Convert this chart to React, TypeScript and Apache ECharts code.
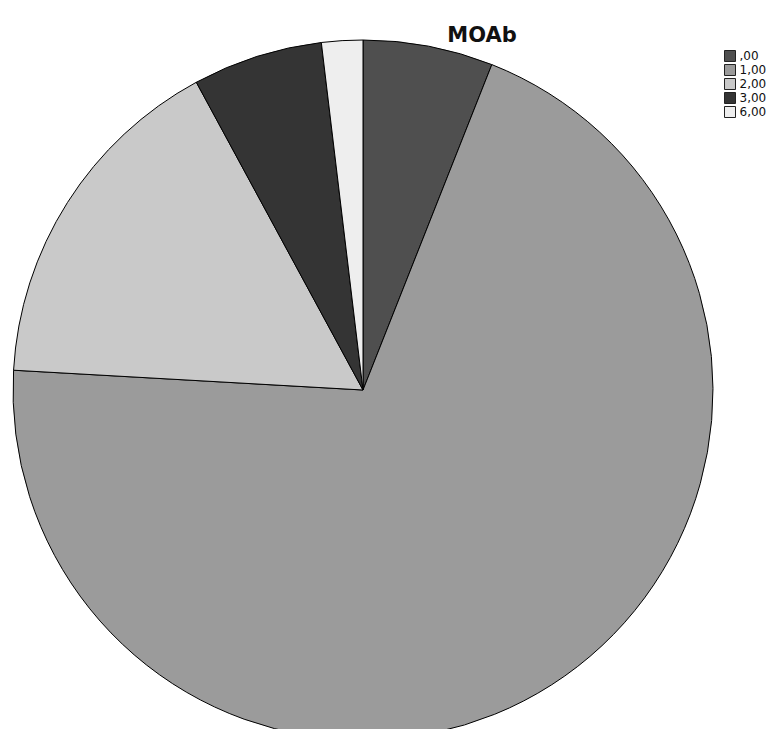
import React, { useEffect, useRef } from "react";
import * as echarts from "echarts";

const categories = [",00", "1,00", "2,00", "3,00", "6,00"];
const values = [6.0, 69.9, 16.2, 6.0, 1.9];
const colors = ["#4f4f4f", "#9b9b9b", "#c9c9c9", "#343434", "#eeeeee"];
const title = "MOAb";

export default function App() {
  const ref = useRef<HTMLDivElement>(null);
  useEffect(() => {
    if (!ref.current) return;
    const chart = echarts.init(ref.current, undefined, { renderer: "svg" });
    chart.setOption({
      animation: false,
      backgroundColor: "#ffffff",
      title: {
        text: title,
        left: 477,
        top: 19,
        textAlign: "center",
        textStyle: { fontFamily: "DejaVu Sans", fontWeight: "bold", fontSize: 21, color: "#111" },
      },
      legend: {
        orient: "vertical",
        left: 719,
        top: 44,
        itemWidth: 11,
        itemHeight: 11,
        itemGap: 0,
        icon: "rect",
        selectedMode: false,
        itemStyle: { borderColor: "#222", borderWidth: 1 },
        textStyle: {
          fontFamily: "DejaVu Sans",
          fontSize: 12,
          lineHeight: 14,
          color: "#111",
          padding: [0, 0, 0, -1],
        },
        data: categories,
      },
      series: [
        {
          type: "pie",
          center: [363, 390],
          radius: 350,
          startAngle: 90,
          clockwise: true,
          label: { show: false },
          labelLine: { show: false },
          emphasis: { disabled: true },
          itemStyle: { borderColor: "#000", borderWidth: 1 },
          data: categories.map((c, i) => ({ name: c, value: values[i], itemStyle: { color: colors[i] } })),
        },
      ],
    });
    return () => chart.dispose();
  }, []);
  return <div ref={ref} style={{ position: "absolute", left: 0, top: 0, width: 775, height: 729 }} />;
}
